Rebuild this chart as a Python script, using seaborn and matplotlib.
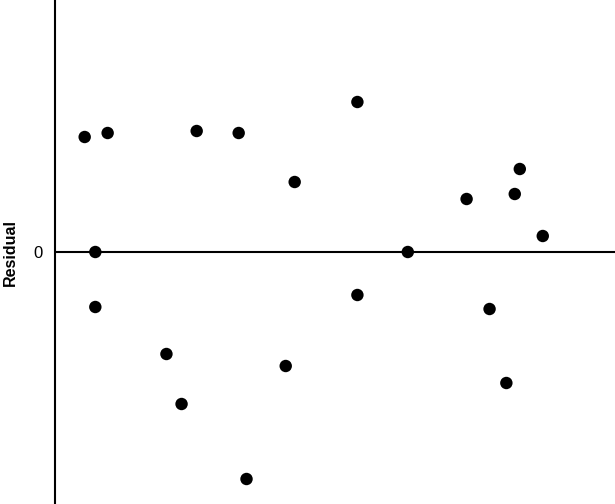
import matplotlib
matplotlib.use("Agg")
import matplotlib.pyplot as plt
import seaborn as sns
import pandas as pd

# fitted values (x) and residuals (y)
fitted = [0.53, 0.94, 0.72, 0.72, 1.99, 2.26, 2.53, 3.28, 3.42, 4.12,
          4.28, 5.40, 5.40, 6.30, 7.35, 7.76, 8.06, 8.21, 8.30, 8.71]
residual = [2.30, 2.38, 0.00, -1.10, -2.04, -3.04, 2.42, 2.38, -4.54, -2.28,
            1.40, 3.00, -0.86, 0.00, 1.06, -1.14, -2.62, 1.16, 1.66, 0.32]

df = pd.DataFrame({"fitted": fitted, "residual": residual})

sns.set_style("white")
plt.rcParams['font.family'] = ['Liberation Sans', 'DejaVu Sans']

fig = plt.figure(figsize=(6.15, 5.04), dpi=100)
ax = fig.add_axes([55 / 615, 0, 560 / 615, 1])

ax.axhline(0, color="black", lw=1.5, zorder=1)
sns.scatterplot(data=df, x="fitted", y="residual", ax=ax, color="black",
                s=80, edgecolor="none", zorder=2)

ax.set_xlim(0, 10)
ax.set_ylim(-5.04, 5.04)
ax.set_xticks([])
ax.set_yticks([0])
ax.set_yticklabels(["0"], fontsize=12, color="black")
ax.tick_params(axis="y", length=0, pad=9)
ax.set_xlabel("")
ax.set_ylabel("Residual", fontsize=11.5, fontweight="bold", color="black")
ax.yaxis.set_label_coords(-0.066, 0.5)

for side in ["top", "right", "bottom"]:
    ax.spines[side].set_visible(False)
ax.spines["left"].set_linewidth(1.5)
ax.spines["left"].set_color("black")

fig.savefig("out.png", dpi=100)
